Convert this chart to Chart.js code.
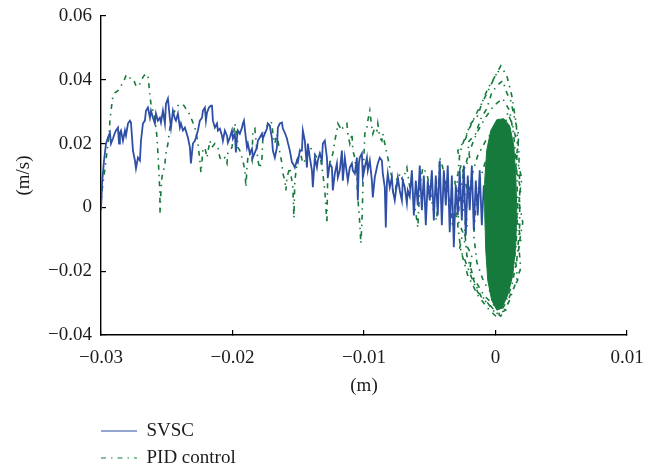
<!DOCTYPE html>
<html><head><meta charset="utf-8">
<script src="https://cdn.jsdelivr.net/npm/chart.js@4.4.0/dist/chart.umd.min.js"></script>
<style>html,body{margin:0;padding:0;background:#fff;}canvas{display:block;}</style>
</head><body>
<canvas id="c" width="656" height="470"></canvas>
<script>
const xTickLabels = ['\u22120.03', '\u22120.02', '\u22120.01', '0', '0.01'];
const yTickLabels = ['\u22120.04', '\u22120.02', '0', '0.02', '0.04', '0.06'];
const seriesNames = ['SVSC', 'PID control'];

const svscX = [
-0.03000,-0.02992,-0.02977,-0.02962,-0.02947,-0.02932,-0.02924,-0.02909,-0.02894,-0.02886,
-0.02871,-0.02863,-0.02856,-0.02848,-0.02833,-0.02818,-0.02810,-0.02795,-0.02780,-0.02772,
-0.02757,-0.02742,-0.02734,-0.02719,-0.02704,-0.02696,-0.02681,-0.02666,-0.02658,-0.02643,
-0.02628,-0.02620,-0.02605,-0.02590,-0.02582,-0.02567,-0.02552,-0.02544,-0.02529,-0.02514,
-0.02506,-0.02491,-0.02476,-0.02468,-0.02453,-0.02438,-0.02430,-0.02415,-0.02400,-0.02392,
-0.02377,-0.02362,-0.02339,-0.02324,-0.02316,-0.02301,-0.02286,-0.02278,-0.02263,-0.02248,
-0.02232,-0.02225,-0.02210,-0.02202,-0.02194,-0.02179,-0.02164,-0.02156,-0.02149,-0.02134,
-0.02118,-0.02111,-0.02096,-0.02080,-0.02073,-0.02058,-0.02042,-0.02035,-0.02020,-0.02004,
-0.01997,-0.01982,-0.01974,-0.01966,-0.01959,-0.01944,-0.01928,-0.01921,-0.01913,-0.01898,
-0.01890,-0.01883,-0.01868,-0.01852,-0.01845,-0.01830,-0.01814,-0.01807,-0.01792,-0.01776,
-0.01769,-0.01754,-0.01738,-0.01731,-0.01716,-0.01700,-0.01693,-0.01678,-0.01662,-0.01655,
-0.01640,-0.01624,-0.01617,-0.01602,-0.01586,-0.01579,-0.01564,-0.01548,-0.01541,-0.01526,
-0.01510,-0.01503,-0.01488,-0.01472,-0.01465,-0.01450,-0.01434,-0.01427,-0.01412,-0.01396,
-0.01389,-0.01374,-0.01358,-0.01351,-0.01336,-0.01320,-0.01313,-0.01298,-0.01282,-0.01275,
-0.01260,-0.01244,-0.01237,-0.01222,-0.01206,-0.01199,-0.01184,-0.01168,-0.01161,-0.01146,
-0.01130,-0.01123,-0.01108,-0.01092,-0.01085,-0.01070,-0.01054,-0.01047,-0.01039,-0.01032,
-0.01016,-0.01009,-0.00994,-0.00978,-0.00971,-0.00956,-0.00940,-0.00933,-0.00918,-0.00902,
-0.00895,-0.00880,-0.00864,-0.00857,-0.00842,-0.00834,-0.00826,-0.00819,-0.00804,-0.00788,
-0.00781,-0.00766,-0.00750,-0.00743,-0.00728,-0.00712,-0.00705,-0.00690,-0.00674,-0.00667,
-0.00652,-0.00636,-0.00621,-0.00606,-0.00591,-0.00576,-0.00560,-0.00545,-0.00530,-0.00515,
-0.00500,-0.00484,-0.00469,-0.00454,-0.00439,-0.00424,-0.00408,-0.00393,-0.00378,-0.00363,
-0.00348,-0.00332,-0.00317,-0.00302,-0.00287,-0.00272,-0.00256,-0.00241,-0.00226,-0.00211,
-0.00196,-0.00180,-0.00165,-0.00150,-0.00135,-0.00120,-0.00104,-0.00089,-0.00074,-0.00059
];
const svscY = [
-0.0009,0.0075,0.0147,0.0200,0.0219,0.0234,0.0200,0.0216,0.0234,0.0241,
0.0250,0.0200,0.0234,0.0241,0.0209,0.0241,0.0225,0.0263,0.0272,0.0266,
0.0178,0.0147,0.0122,0.0156,0.0147,0.0209,0.0263,0.0272,0.0303,0.0313,
0.0281,0.0303,0.0281,0.0263,0.0294,0.0272,0.0281,0.0266,0.0303,0.0263,
0.0325,0.0341,0.0278,0.0250,0.0303,0.0278,0.0272,0.0294,0.0250,0.0263,
0.0241,0.0250,0.0219,0.0188,0.0138,0.0200,0.0209,0.0219,0.0241,0.0272,
0.0281,0.0303,0.0313,0.0272,0.0297,0.0313,0.0319,0.0319,0.0272,0.0250,
0.0263,0.0241,0.0247,0.0225,0.0209,0.0241,0.0225,0.0203,0.0219,0.0241,
0.0216,0.0231,0.0172,0.0219,0.0241,0.0231,0.0250,0.0263,0.0272,0.0216,
0.0188,0.0200,0.0169,0.0184,0.0156,0.0172,0.0188,0.0209,0.0219,0.0231,
0.0216,0.0231,0.0247,0.0263,0.0256,0.0216,0.0178,0.0156,0.0188,0.0250,
0.0263,0.0266,0.0247,0.0234,0.0216,0.0203,0.0178,0.0141,0.0138,0.0125,
0.0147,0.0141,0.0178,0.0178,0.0241,0.0209,0.0125,0.0200,0.0156,0.0116,
0.0063,0.0156,0.0125,0.0147,0.0169,0.0147,0.0200,0.0209,0.0156,0.0094,
0.0138,0.0125,0.0053,0.0106,0.0138,0.0094,0.0116,0.0178,0.0084,0.0156,
0.0106,0.0084,0.0125,0.0138,0.0116,0.0106,0.0156,0.0022,0.0138,0.0156,
0.0169,0.0094,0.0125,0.0156,0.0116,0.0147,0.0084,0.0031,0.0094,0.0125,
0.0138,0.0156,0.0147,0.0106,0.0063,-0.0063,0.0075,0.0106,0.0063,0.0094,
0.0053,0.0022,0.0075,0.0094,0.0053,0.0022,0.0084,0.0063,0.0013,0.0053,
0.0034,0.0116,-0.0025,0.0084,0.0006,0.0131,-0.0009,0.0100,-0.0056,0.0084,
0.0022,0.0116,-0.0041,0.0100,-0.0025,0.0147,-0.0056,0.0116,0.0006,0.0131,
-0.0078,0.0100,-0.0125,0.0069,-0.0025,0.0116,-0.0041,0.0131,-0.0088,0.0100,
-0.0009,0.0131,-0.0072,0.0084,-0.0025,0.0116,-0.0056,0.0069,0.0006,0.0053
];

const pidX = [
-0.03000,-0.02992,-0.02977,-0.02962,-0.02954,-0.02939,-0.02932,-0.02924,-0.02909,-0.02894,
-0.02871,-0.02848,-0.02825,-0.02810,-0.02795,-0.02780,-0.02764,-0.02749,-0.02734,-0.02719,
-0.02704,-0.02688,-0.02673,-0.02658,-0.02643,-0.02635,-0.02628,-0.02620,-0.02605,-0.02590,
-0.02582,-0.02574,-0.02567,-0.02559,-0.02552,-0.02552,-0.02544,-0.02536,-0.02529,-0.02514,
-0.02506,-0.02491,-0.02476,-0.02468,-0.02453,-0.02438,-0.02415,-0.02392,-0.02369,-0.02354,
-0.02339,-0.02316,-0.02301,-0.02286,-0.02270,-0.02263,-0.02248,-0.02240,-0.02232,-0.02225,
-0.02210,-0.02194,-0.02172,-0.02156,-0.02134,-0.02111,-0.02096,-0.02080,-0.02058,-0.02042,
-0.02035,-0.02004,-0.01982,-0.01966,-0.01959,-0.01944,-0.01921,-0.01906,-0.01898,-0.01890,
-0.01883,-0.01868,-0.01852,-0.01845,-0.01830,-0.01807,-0.01792,-0.01776,-0.01769,-0.01754,
-0.01738,-0.01731,-0.01716,-0.01700,-0.01693,-0.01678,-0.01662,-0.01640,-0.01624,-0.01617,
-0.01602,-0.01594,-0.01586,-0.01564,-0.01541,-0.01533,-0.01526,-0.01503,-0.01488,-0.01465,
-0.01434,-0.01412,-0.01389,-0.01358,-0.01336,-0.01320,-0.01313,-0.01298,-0.01282,-0.01275,
-0.01260,-0.01237,-0.01222,-0.01206,-0.01199,-0.01168,-0.01161,-0.01130,-0.01123,-0.01108,
-0.01092,-0.01085,-0.01070,-0.01054,-0.01047,-0.01032,-0.01024,-0.01016,-0.01009,-0.01001,
-0.00994,-0.00978,-0.00971,-0.00956,-0.00940,-0.00933,-0.00918,-0.00902,-0.00895,-0.00880,
-0.00864,-0.00857,-0.00842,-0.00826,-0.00819,-0.00804,-0.00788,-0.00781,-0.00766,-0.00750,
-0.00743,-0.00728,-0.00705,-0.00674,-0.00652,-0.00629,-0.00598,-0.00591,-0.00576,-0.00553,
-0.00522,-0.00500,-0.00477,-0.00447,-0.00424,-0.00401,-0.00371,-0.00348,-0.00325,-0.00294,
-0.00272,-0.00249,-0.00218,-0.00196,-0.00135,-0.00074,-0.00013,0.00040,0.00086,0.00124,
0.00154,0.00177,0.00184,0.00184,0.00162,0.00124,0.00070,0.00010,-0.00059,-0.00135,
-0.00211,-0.00264,-0.00287,-0.00272,-0.00241,-0.00196,-0.00142,-0.00082,-0.00013,0.00055,
0.00108,0.00139,0.00162,0.00169,0.00154,0.00116,0.00055,-0.00013,-0.00089,-0.00165,
-0.00218,-0.00234,-0.00218,-0.00180,-0.00135,-0.00074,-0.00006,0.00063,0.00108,0.00139,
0.00146,0.00139,0.00108,0.00048,-0.00021,-0.00089,-0.00142,-0.00165,-0.00150,-0.00120,
-0.00074,-0.00013,0.00048,
0.00093,0.00131,0.00169,0.00154,0.00192,0.00162,0.00192,0.00154,0.00169,0.00108,
0.00078,0.00017,-0.00044,-0.00104,-0.00150,-0.00196,-0.00180,-0.00241,-0.00211,-0.00256,
-0.00218,-0.00249,-0.00196,-0.00211,-0.00150,-0.00112,-0.00067,-0.00029,0.00010,0.00055,
0.00086,0.00116,
0.00146,0.00177,0.00162,0.00200,0.00177,0.00207,0.00177,0.00192,0.00139,0.00101,
0.00040,-0.00021,-0.00074,-0.00135,-0.00180,-0.00226,-0.00272,-0.00249,-0.00302,-0.00272,
-0.00310,-0.00264,-0.00287,-0.00226,-0.00196,-0.00135,-0.00097,-0.00059,-0.00006,0.00025
];
const pidY = [
0.0000,0.0053,0.0100,0.0147,0.0178,0.0225,0.0272,0.0303,0.0350,0.0359,
0.0366,0.0381,0.0397,0.0413,0.0416,0.0406,0.0397,0.0397,0.0381,0.0378,
0.0388,0.0403,0.0413,0.0419,0.0413,0.0381,0.0350,0.0325,0.0303,0.0278,
0.0250,0.0219,0.0169,0.0106,0.0044,-0.0019,0.0053,0.0097,0.0106,0.0138,
0.0169,0.0200,0.0250,0.0272,0.0294,0.0303,0.0319,0.0325,0.0319,0.0309,
0.0303,0.0281,0.0266,0.0250,0.0219,0.0200,0.0147,0.0109,0.0147,0.0178,
0.0188,0.0156,0.0209,0.0188,0.0200,0.0188,0.0156,0.0147,0.0156,0.0138,
0.0172,0.0188,0.0263,0.0231,0.0188,0.0178,0.0147,0.0116,0.0063,0.0125,
0.0156,0.0169,0.0147,0.0241,0.0247,0.0147,0.0122,0.0153,0.0219,0.0241,
0.0250,0.0266,0.0272,0.0263,0.0231,0.0200,0.0231,0.0172,0.0138,0.0106,
0.0084,0.0053,0.0094,0.0125,0.0063,-0.0034,0.0084,0.0156,0.0178,0.0138,
0.0156,0.0188,0.0178,0.0156,0.0169,0.0125,0.0106,0.0053,-0.0050,0.0125,
0.0138,0.0169,0.0209,0.0241,0.0263,0.0241,0.0250,0.0263,0.0231,0.0200,
0.0231,0.0178,0.0156,0.0094,0.0031,-0.0050,-0.0113,-0.0050,0.0053,0.0156,
0.0231,0.0250,0.0272,0.0303,0.0250,0.0231,0.0250,0.0241,0.0263,0.0219,
0.0209,0.0231,0.0200,0.0169,0.0156,0.0125,0.0094,0.0053,0.0031,0.0094,
0.0075,0.0106,0.0084,0.0125,0.0063,0.0044,-0.0041,-0.0063,0.0063,0.0125,
0.0106,0.0063,0.0000,-0.0041,0.0156,0.0125,0.0063,0.0013,-0.0063,0.0063,
0.0169,0.0200,0.0231,0.0250,0.0303,0.0350,0.0403,0.0444,0.0413,0.0350,
0.0272,0.0178,0.0069,-0.0056,-0.0166,-0.0244,-0.0306,-0.0344,-0.0316,-0.0275,
-0.0213,-0.0134,-0.0056,0.0038,0.0116,0.0178,0.0234,0.0278,0.0319,0.0341,
0.0303,0.0225,0.0116,-0.0009,-0.0134,-0.0228,-0.0291,-0.0306,-0.0275,-0.0222,
-0.0150,-0.0072,0.0022,0.0100,0.0163,0.0209,0.0247,0.0266,0.0225,0.0131,
0.0022,-0.0103,-0.0197,-0.0266,-0.0275,-0.0234,-0.0172,-0.0088,0.0006,0.0084,
0.0147,0.0194,0.0209,
0.0297,0.0256,0.0194,0.0131,0.0053,-0.0025,-0.0103,-0.0172,-0.0228,-0.0278,
-0.0322,-0.0334,-0.0306,-0.0284,-0.0244,-0.0197,-0.0150,-0.0103,-0.0047,0.0006,
0.0059,0.0116,0.0153,0.0203,0.0231,0.0278,0.0309,0.0359,0.0381,0.0397,
0.0359,0.0334,
0.0278,0.0225,0.0153,0.0091,0.0022,-0.0047,-0.0122,-0.0191,-0.0253,-0.0297,
-0.0341,-0.0322,-0.0291,-0.0266,-0.0222,-0.0172,-0.0128,-0.0078,-0.0025,0.0028,
0.0078,0.0128,0.0178,0.0216,0.0259,0.0288,0.0334,0.0372,0.0409,0.0428
];

const pidCoreX = [-0.00082,-0.00082,-0.00067,-0.00036,0.00010,0.00063,0.00108,0.00139,0.00154,0.00162,
0.00154,0.00131,0.00093,0.00048,0.00010,-0.00029,-0.00059,-0.00074,-0.00082];
const pidCoreY = [-0.0016,0.0084,0.0178,0.0241,0.0275,0.0278,0.0256,0.0194,0.0100,-0.0009,
-0.0119,-0.0213,-0.0275,-0.0316,-0.0322,-0.0291,-0.0228,-0.0134,-0.0016];

const FONT = "'Liberation Serif', 'Times New Roman', serif";
const TEXT = '#1c1c1c';
const BLUE = '#2f4fa6';
const GREEN = '#167a3c';
function pts(xs, ys) { return xs.map((x, i) => ({x: x, y: ys[i]})); }

const legendShift = {
  id: 'legendShift',
  afterLayout(chart) { if (chart.legend) { chart.legend.left = 93; } }
};

new Chart(document.getElementById('c'), {
  type: 'line',
  data: { datasets: [
    { label: seriesNames[0], data: pts(svscX, svscY), borderColor: BLUE, backgroundColor: BLUE,
      borderWidth: 1.8, pointRadius: 0, fill: false, order: 1 },
    { label: seriesNames[1], data: pts(pidX, pidY), borderColor: GREEN, backgroundColor: GREEN,
      borderWidth: 1.6, borderDash: [5, 5, 1.5, 5], pointRadius: 0, fill: false, order: 2 },
    { label: 'core', data: pts(pidCoreX, pidCoreY), borderColor: GREEN, backgroundColor: GREEN,
      borderWidth: 1, pointRadius: 0, fill: 'shape', order: 0 }
  ]},
  plugins: [legendShift],
  options: {
    responsive: false, animation: false, devicePixelRatio: 1,
    layout: { padding: { left: 0, right: 29, top: 16, bottom: -7.5 } },
    plugins: {
      tooltip: { enabled: false },
      legend: {
        position: 'bottom', align: 'start',
        labels: {
          usePointStyle: true, pointStyle: 'line', pointStyleWidth: 36, padding: 8,
          color: TEXT, font: { family: FONT, size: 19 },
          filter: item => item.datasetIndex < 2,
          generateLabels: chart => Chart.defaults.plugins.legend.labels.generateLabels(chart)
            .map(it => {
              const ds = chart.data.datasets[it.datasetIndex];
              it.text = it.text + '\u00A0'.repeat(90);
              it.lineDash = ds.borderDash || [];
              it.lineWidth = 1.2;
              it.strokeStyle = ds.borderColor;
              return it;
            })
        }
      }
    },
    scales: {
      x: {
        type: 'linear', min: -0.03, max: 0.01,
        afterFit: s => { s.height = 78.5; s.paddingLeft = 0; s.paddingRight = 0; },
        ticks: { stepSize: 0.01, padding: 17, color: TEXT, font: { family: FONT, size: 19 },
          maxRotation: 0, autoSkip: false,
          callback: v => xTickLabels[Math.round((v + 0.03) / 0.01)] },
        grid: { drawOnChartArea: false, drawTicks: true, tickLength: -5, color: '#000', lineWidth: 1.2 },
        border: { display: true, color: '#000', width: 1.4 },
        title: { display: true, text: '(m)', color: TEXT, font: { family: FONT, size: 19 },
          padding: { top: 0, bottom: 16 } }
      },
      y: {
        type: 'linear', min: -0.04, max: 0.06,
        afterFit: s => { s.width = 101; s.paddingTop = 0; s.paddingBottom = 0; },
        ticks: { stepSize: 0.02, padding: 14, color: TEXT, font: { family: FONT, size: 19 },
          autoSkip: false,
          callback: v => yTickLabels[Math.round((v + 0.04) / 0.02)] },
        grid: { drawOnChartArea: false, drawTicks: true, tickLength: -5, color: '#000', lineWidth: 1.2 },
        border: { display: true, color: '#000', width: 1.4 },
        title: { display: true, text: '(m/s)', color: TEXT, font: { family: FONT, size: 19 },
          padding: { top: 12.6, bottom: 0 } }
      }
    }
  }
});
</script>
</body></html>
